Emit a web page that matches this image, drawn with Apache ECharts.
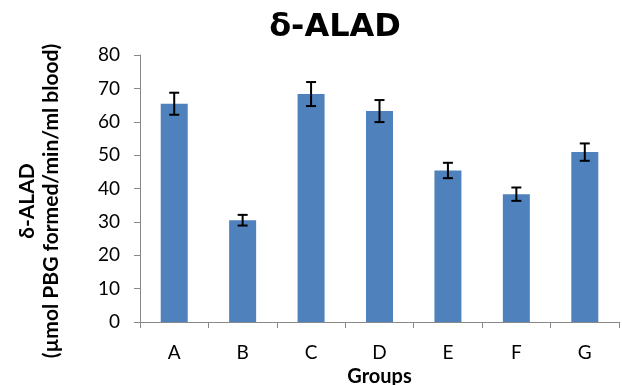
<!DOCTYPE html>
<html><head><meta charset="utf-8">
<script src="https://cdn.jsdelivr.net/npm/echarts@6/dist/echarts.min.js"></script>
<style>html,body{margin:0;padding:0;background:#fff}#c{width:622px;height:385px}</style>
</head><body><div id="c"></div>
<script>
const categories = ['A','B','C','D','E','F','G'];
const means = [65.4, 30.5, 68.3, 63.2, 45.4, 38.3, 50.9];
const errors = [3.3, 1.6, 3.6, 3.3, 2.3, 2.0, 2.6];
const yTicks = {min: 0, max: 80, interval: 10};
const yName = 'δ-ALAD\n(µmol PBG formed/min/ml blood)';
const FONT = 'Lato, "Open Sans", sans-serif';

const chart = echarts.init(document.getElementById('c'), null, {renderer: 'canvas'});
chart.setOption({
  animation: false,
  title: {text: 'δ-ALAD', left: 330, top: 7, textAlign: 'center',
    textStyle: {fontFamily: '"DejaVu Sans", sans-serif', fontWeight: 'bold', fontSize: 32, color: '#000'}},
  grid: {left: 140, right: 3, top: 55, bottom: 63, containLabel: false, outerBoundsMode: 'none'},
  graphic: [{type: 'text', x: 39, y: 201, rotation: Math.PI / 2,
    style: {text: yName, fontFamily: FONT, fontWeight: 'bold', fontSize: 21, fill: '#000',
      lineHeight: 24, align: 'center', verticalAlign: 'middle'}}],
  xAxis: {type: 'category', data: categories, boundaryGap: true,
    axisLine: {lineStyle: {color: '#888', width: 1}},
    axisTick: {show: true, length: 6, lineStyle: {color: '#888'}},
    axisLabel: {fontFamily: FONT, fontSize: 19, color: '#000', margin: 21},
    name: 'Groups', nameLocation: 'middle', nameGap: 42,
    nameTextStyle: {fontFamily: FONT, fontWeight: 'bold', fontSize: 20, color: '#000'}},
  yAxis: {type: 'value', min: yTicks.min, max: yTicks.max, interval: yTicks.interval,
    axisLine: {show: true, lineStyle: {color: '#888', width: 1}},
    axisTick: {show: true, length: 6, lineStyle: {color: '#888'}},
    splitLine: {show: false},
    axisLabel: {fontFamily: FONT, fontSize: 19, color: '#000', margin: 20}},
  series: [
    {type: 'bar', data: means, barWidth: 27,
      itemStyle: {color: '#4f81bd'}},
    {type: 'custom', data: categories.map((c, i) => [i, means[i] - errors[i], means[i] + errors[i]]),
      z: 10,
      renderItem: function (params, api) {
        const lo = api.coord([api.value(0), api.value(1)]);
        const hi = api.coord([api.value(0), api.value(2)]);
        const w = 5;
        const st = {stroke: '#000', lineWidth: 2};
        return {type: 'group', children: [
          {type: 'line', shape: {x1: lo[0], y1: lo[1], x2: hi[0], y2: hi[1]}, style: st},
          {type: 'line', shape: {x1: lo[0]-w, y1: lo[1], x2: lo[0]+w, y2: lo[1]}, style: st},
          {type: 'line', shape: {x1: hi[0]-w, y1: hi[1], x2: hi[0]+w, y2: hi[1]}, style: st}
        ]};
      }}
  ]
});
</script></body></html>
